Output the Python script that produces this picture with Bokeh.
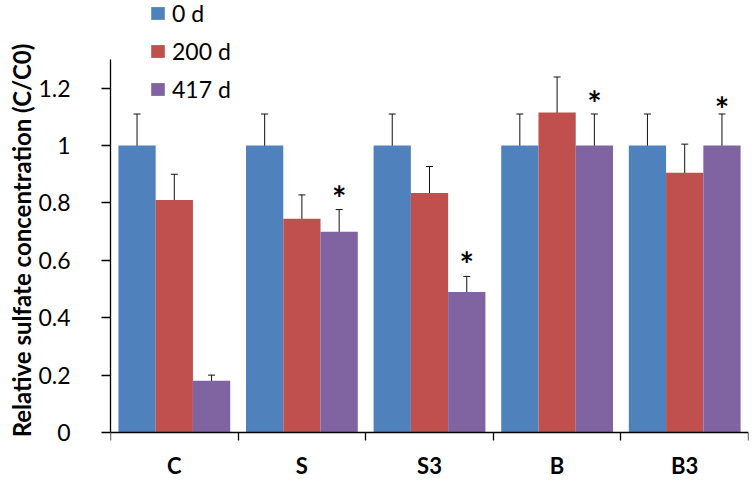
from bokeh.plotting import figure
from bokeh.models import (ColumnDataSource, Whisker, TeeHead, FixedTicker, Legend, LegendItem, Range1d, Title)
from bokeh.core.properties import value
from bokeh.embed import file_html
from bokeh.resources import INLINE

categories = ["C", "S", "S3", "B", "B3"]
series_names = ["0 d", "200 d", "417 d"]
vals_0d = [1.0, 1.0, 1.0, 1.0, 1.0]
err_0d = [0.11, 0.11, 0.11, 0.11, 0.11]
vals_200d = [0.81, 0.745, 0.835, 1.115, 0.905]
err_200d = [0.09, 0.083, 0.092, 0.124, 0.10]
vals_417d = [0.18, 0.70, 0.49, 1.0, 1.0]
err_417d = [0.02, 0.077, 0.054, 0.11, 0.11]
star_categories = ["S", "S3", "B", "B3"]
star_y = [0.84, 0.61, 1.172, 1.15]
y_ticks = [0, 0.2, 0.4, 0.6, 0.8, 1.0, 1.2]
y_tick_labels = ["0", "0.2", "0.4", "0.6", "0.8", "1", "1.2"]
y_axis_max = 1.3
y_title = "Relative sulfate concentration (C/C0)"

colors = ["#4F81BD", "#C0504D", "#8064A2"]
FONT = "Lato"

p = figure(width=754, height=480, output_backend="svg", toolbar_location=None,
           x_range=Range1d(0, len(categories)), y_range=Range1d(-0.1673, 1.5056),
           min_border_left=110, min_border_right=6, min_border_top=0, min_border_bottom=0)
p.outline_line_color = None
p.xgrid.visible = False
p.ygrid.visible = False

bw = 0.292
offsets = [-bw, 0.0, bw]
all_vals = [vals_0d, vals_200d, vals_417d]
all_errs = [err_0d, err_200d, err_417d]
renderers = []
for k in range(3):
    xs = [i + 0.5 + offsets[k] for i in range(len(categories))]
    src = ColumnDataSource(dict(x=xs, top=all_vals[k],
                                upper=[v + e for v, e in zip(all_vals[k], all_errs[k])],
                                lower=[v - e for v, e in zip(all_vals[k], all_errs[k])]))
    r = p.vbar(x="x", top="top", width=bw, bottom=0, source=src,
               fill_color=colors[k], line_color=None)
    renderers.append(r)
    w = Whisker(base="x", upper="upper", lower="lower", source=src,
                line_color="#111111", line_width=1,
                upper_head=TeeHead(size=7, line_color="#111111", line_width=1),
                lower_head=TeeHead(size=7, line_color="#111111", line_width=1))
    p.add_layout(w)

# significance stars above 417 d bars
sx = [categories.index(c) + 0.5 + offsets[2] for c in star_categories]
ssrc = ColumnDataSource(dict(x=sx, y=star_y, t=["*"] * len(sx)))
p.text(x="x", y="y", text="t", source=ssrc, text_font=value(FONT), text_font_style="bold",
       text_font_size="34px", text_align="center", text_baseline="middle",
       text_color="black", y_offset=6)

# x axis (at y = 0)
xa = p.xaxis[0]
xa.fixed_location = 0
xa.ticker = FixedTicker(ticks=[i + 0.5 for i in range(len(categories))],
                        minor_ticks=list(range(len(categories) + 1)))
xa.major_label_overrides = {i + 0.5: c for i, c in enumerate(categories)}
xa.major_tick_line_color = None
xa.major_tick_out = 0
xa.major_tick_in = 0
xa.minor_tick_out = 8
xa.minor_tick_in = 0
xa.minor_tick_line_color = "black"
xa.minor_tick_line_width = 1.3
xa.axis_line_color = "black"
xa.axis_line_width = 1.3
xa.major_label_standoff = 12
xa.major_label_text_font = FONT
xa.major_label_text_font_style = "bold"
xa.major_label_text_font_size = "22px"
xa.major_label_text_color = "black"

# y axis
ya = p.yaxis[0]
ya.bounds = (0, y_axis_max)
ya.ticker = FixedTicker(ticks=y_ticks, minor_ticks=[])
ya.major_label_overrides = {t: l for t, l in zip(y_ticks, y_tick_labels)}
ya.major_tick_out = 9
ya.major_tick_in = 0
ya.major_tick_line_color = "black"
ya.major_tick_line_width = 1.3
ya.minor_tick_line_color = None
ya.axis_line_color = "black"
ya.axis_line_width = 1.3
ya.major_label_standoff = 31
ya.major_label_text_font = FONT
ya.major_label_text_font_size = "23px"
ya.major_label_text_color = "black"

p.add_layout(Title(text=y_title, align="center", offset=20, standoff=0,
                   text_font=FONT, text_font_style="bold", text_font_size="24px",
                   text_color="black"), "left")

legend = Legend(items=[LegendItem(label=series_names[k], renderers=[renderers[k]]) for k in range(3)],
                location=(39, 377), orientation="vertical",
                glyph_width=17, glyph_height=16, label_text_font=FONT,
                label_text_font_size="23px", label_text_color="black",
                label_standoff=6, spacing=10, padding=0, margin=0,
                border_line_color=None, background_fill_alpha=0)
p.add_layout(legend)

open("out.html", "w").write(file_html(p, INLINE))
